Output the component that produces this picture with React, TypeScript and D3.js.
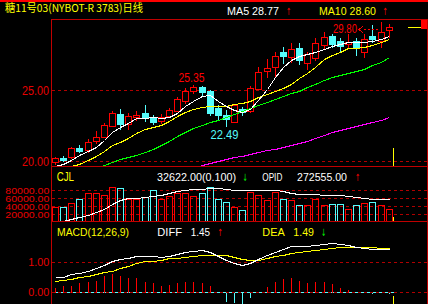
import React from "react";
import * as d3 from "d3";

// Daily bars: 糖11号03 (NYBOT-R 3783)
const OPEN = [19.91, 20.21, 20.26, 20.94, 20.75, 21.43, 21.71, 22.49, 23.31, 22.61, 23.10, 23.36, 23.12, 22.80, 23.15, 23.54, 24.25, 24.93, 25.19, 24.93, 23.75, 23.24, 22.78, 23.64, 23.52, 25.09, 26.36, 26.60, 27.68, 27.35, 27.94, 26.88, 27.23, 28.17, 28.80, 28.45, 28.24, 28.45, 27.70, 28.82, 28.45, 29.20];
const HIGH = [20.30, 20.35, 21.00, 21.13, 21.53, 22.11, 22.65, 23.50, 23.66, 23.36, 23.54, 23.94, 23.24, 23.29, 23.75, 24.49, 25.12, 25.35, 25.30, 25.00, 23.94, 23.59, 24.00, 23.83, 25.30, 26.62, 27.16, 27.65, 28.00, 28.29, 28.29, 27.70, 28.64, 29.11, 28.92, 28.68, 28.92, 28.64, 28.92, 29.58, 29.80, 29.62];
const LOW = [19.77, 20.00, 20.19, 20.61, 20.65, 21.25, 21.67, 22.46, 22.25, 22.25, 22.89, 22.82, 22.58, 22.65, 23.08, 23.52, 24.11, 24.80, 24.65, 23.24, 22.89, 22.49, 22.75, 23.24, 23.47, 25.07, 25.94, 25.94, 26.88, 27.00, 26.81, 26.46, 27.11, 27.94, 28.05, 27.75, 27.94, 27.46, 27.35, 28.40, 28.05, 28.70];
const CLOSE = [20.19, 20.09, 20.89, 20.72, 21.34, 21.67, 22.51, 23.38, 22.63, 23.19, 23.24, 23.05, 22.73, 23.10, 23.59, 24.34, 24.93, 25.24, 24.88, 23.40, 23.24, 22.94, 23.94, 23.45, 25.12, 26.27, 26.53, 27.39, 27.42, 27.87, 27.11, 27.51, 28.29, 28.75, 28.22, 28.10, 28.40, 27.94, 28.59, 28.59, 29.06, 29.42];

// Moving averages
const MA5 = [19.68, 19.82, 20.07, 20.42, 20.70, 20.99, 21.48, 22.06, 22.42, 22.65, 23.01, 23.03, 23.08, 23.06, 23.13, 23.38, 23.87, 24.23, 24.60, 24.62, 24.25, 23.90, 23.62, 23.45, 23.66, 24.30, 25.10, 25.95, 26.60, 27.10, 27.39, 27.54, 27.71, 27.92, 28.08, 28.27, 28.35, 28.35, 28.35, 28.42, 28.56, 28.77];
const MA10 = [null, 19.44, 19.65, 19.79, 20.04, 20.35, 20.67, 21.13, 21.36, 21.65, 21.97, 22.25, 22.39, 22.54, 22.82, 23.17, 23.45, 23.66, 23.78, 23.85, 23.87, 23.89, 23.98, 24.08, 24.26, 24.51, 24.72, 24.93, 25.12, 25.42, 25.81, 26.20, 26.62, 27.18, 27.50, 27.71, 27.94, 27.94, 28.06, 28.17, 28.35, 28.60];
const MA20 = [null, null, null, null, null, 19.52, 19.74, 19.95, 20.13, 20.27, 20.42, 20.63, 20.88, 21.13, 21.41, 21.73, 22.04, 22.32, 22.54, 22.75, 22.92, 23.10, 23.31, 23.49, 23.70, 23.91, 24.15, 24.37, 24.58, 24.79, 24.96, 25.18, 25.42, 25.67, 25.92, 26.09, 26.23, 26.34, 26.51, 26.73, 26.97, 27.32];
const MA60 = [null, null, null, null, null, null, null, null, null, null, null, null, null, null, null, null, null, 19.54, 19.72, 19.86, 20.00, 20.11, 20.25, 20.35, 20.46, 20.60, 20.74, 20.88, 21.02, 21.16, 21.30, 21.44, 21.62, 21.83, 22.01, 22.18, 22.32, 22.46, 22.61, 22.78, 22.92, 23.12];

// Volume (CJL) and open interest (OPID)
const VOLUME = [37500, 37500, 47500, 58250, 72500, 72500, 67500, 87500, 85000, 59000, 59000, 62500, 80000, 59000, 66500, 72500, 72500, 65000, 72500, 87500, 59000, 50000, 38250, 30000, 75000, 68250, 55750, 75000, 58250, 55750, 42500, 42500, 58250, 42500, 45000, 45000, 33250, 42500, 47500, 50750, 42500, 32622];
const OPID = [206400, 208700, 215300, 220200, 224500, 233100, 242200, 257000, 269400, 274600, 275100, 276600, 280300, 283200, 288900, 294600, 298300, 299500, 300300, 303200, 304600, 300300, 296600, 296600, 296600, 297500, 298300, 298300, 293200, 287500, 286000, 285200, 285200, 284000, 283200, 282300, 281200, 277400, 273700, 273100, 272600, 272555];

// MACD(12,26,9)
const DIFF = [0.49, 0.52, 0.59, 0.65, 0.71, 0.81, 0.91, 1.04, 1.11, 1.13, 1.20, 1.21, 1.21, 1.18, 1.21, 1.28, 1.33, 1.37, 1.41, 1.36, 1.21, 1.08, 0.99, 0.91, 0.98, 1.11, 1.23, 1.35, 1.46, 1.55, 1.55, 1.56, 1.58, 1.63, 1.64, 1.62, 1.57, 1.52, 1.47, 1.45, 1.45, 1.45];
const DEA = [0.38, 0.41, 0.44, 0.49, 0.54, 0.59, 0.66, 0.72, 0.81, 0.89, 0.96, 1.03, 1.06, 1.09, 1.13, 1.16, 1.18, 1.21, 1.24, 1.26, 1.26, 1.23, 1.18, 1.11, 1.08, 1.09, 1.14, 1.20, 1.25, 1.30, 1.35, 1.38, 1.41, 1.46, 1.49, 1.52, 1.53, 1.53, 1.52, 1.51, 1.49, 1.49];
const MACD = [0.12, 0.20, 0.21, 0.29, 0.35, 0.37, 0.54, 0.61, 0.54, 0.48, 0.46, 0.35, 0.29, 0.20, 0.24, 0.31, 0.35, 0.35, 0.31, 0.21, -0.05, -0.33, -0.36, -0.40, -0.21, -0.02, 0.18, 0.35, 0.44, 0.47, 0.37, 0.30, 0.34, 0.34, 0.27, 0.13, 0.08, -0.03, -0.05, -0.07, -0.05, -0.06];

// Axis ticks
const PRICE_TICKS = [25, 20];
const VOLUME_TICKS = [80000, 60000, 40000, 20000];
const MACD_TICKS = [1, 0];

// Marked extremes (bar indices)
const MARK_HIGH = 17;
const MARK_LOW = 21;
const MARK_TOP = 40;

const TITLE = "糖11号03(NYBOT-R 3783)日线";

const FONT = "'Liberation Sans', Arial, sans-serif";
const CJK = "'Noto Sans CJK SC', 'Liberation Sans', sans-serif";
const ARROW_FONT = "'DejaVu Sans', sans-serif";
const RED = "#ff0000";
const CYAN = "#54fcfc";
const YELLOW = "#ffff00";
const GREEN = "#00ff00";
const MAGENTA = "#ff00ff";
const FRAME = "#c00000";
const GRID = "#b00000";
const LABEL = "#e80000";

const W = 428;
const H = 304;
const LEFT = 52;
const RIGHT = 427;
const MAIN_TOP = 19;
const MAIN_BOTTOM = 167;
const VOL_BOTTOM = 222;

export default function App() {
  const n = CLOSE.length;
  const x = d3.scaleLinear().domain([0, n - 1]).range([55, 388.7]);
  const cx = (i: number) => Math.round(x(i)) + 0.5;
  const snap = (v: number) => Math.round(v) + 0.5;
  const yP = d3.scaleLinear().domain([20, 25]).range([161, 90]);
  const yV = d3.scaleLinear().domain([0, 80000]).range([222.3, 190.3]);
  const yO = d3.scaleLinear().domain([205000, 272555]).range([222.3, 198.7]);
  const yM = d3.scaleLinear().domain([0, 1]).range([292, 262.3]);

  const series = (y: (v: number) => number) =>
    d3
      .line<number | null>()
      .defined((d) => d != null)
      .x((_, i) => cx(i))
      .y((d) => snap(y(d as number)));

  const priceLine = series(yP);
  const maLines: [Array<number | null>, string][] = [
    [MA60, MAGENTA],
    [MA20, GREEN],
    [MA10, YELLOW],
    [MA5, "#ffffff"],
  ];

  const dashed = (y: number, key: string) => (
    <line key={key} x1={LEFT} x2={RIGHT} y1={snap(y)} y2={snap(y)} stroke={GRID} strokeDasharray="3 3" />
  );

  const arrow = (ch: string, xPos: number, yPos: number, color: string) => (
    <text x={xPos} y={yPos} fill={color} fontFamily={ARROW_FONT} fontSize={10} textLength={5} lengthAdjust="spacingAndGlyphs">
      {ch}
    </text>
  );

  const fmt = d3.format(".2f");
  const cursorX = 393.5;
  const topX = cx(MARK_TOP);
  const topY = yP(HIGH[MARK_TOP]);

  return (
    <svg width={W} height={H} style={{ position: "fixed", left: 0, top: 0, background: "#000" }}>
      <defs>
        <clipPath id="mainClip">
          <rect x={LEFT} y={MAIN_TOP} width={RIGHT - LEFT} height={MAIN_BOTTOM - MAIN_TOP} />
        </clipPath>
        <clipPath id="volClip">
          <rect x={LEFT} y={MAIN_BOTTOM} width={RIGHT - LEFT} height={VOL_BOTTOM - MAIN_BOTTOM} />
        </clipPath>
        <clipPath id="macdClip">
          <rect x={LEFT} y={VOL_BOTTOM} width={RIGHT - LEFT} height={H - VOL_BOTTOM} />
        </clipPath>
      </defs>
      <rect x={0} y={0} width={W} height={H} fill="#000" />
      <rect x={0} y={0} width={W} height={2} fill={RED} />

      {/* header */}
      <text x={5} y={12} fill={YELLOW} fontFamily={CJK} fontSize={11} textLength={138} lengthAdjust="spacingAndGlyphs">
        {TITLE}
      </text>
      <text x={227} y={15.3} fill="#ffffff" fontFamily={FONT} fontSize={11.5} textLength={52} lengthAdjust="spacingAndGlyphs">
        {`MA5 ${fmt(MA5[n - 1] as number)}`}
      </text>
      {arrow("↑", 286, 15.3, RED)}
      <text x={319} y={15.3} fill={YELLOW} fontFamily={FONT} fontSize={11.5} textLength={57} lengthAdjust="spacingAndGlyphs">
        {`MA10 ${fmt(MA10[n - 1] as number)}`}
      </text>
      {arrow("↑", 382.5, 15.3, RED)}

      {/* grid */}
      <g shapeRendering="crispEdges">
        {PRICE_TICKS.map((t) => dashed(yP(t), `p${t}`))}
        {VOLUME_TICKS.map((t) => dashed(yV(t), `v${t}`))}
        {MACD_TICKS.map((t) => dashed(yM(t), `m${t}`))}
      </g>

      {/* axis labels */}
      <g fill={LABEL} fontFamily={FONT} textAnchor="end">
        {PRICE_TICKS.map((t) => (
          <text key={`pl${t}`} x={49} y={yP(t) + 4.5} fontSize={12.5} textLength={27} lengthAdjust="spacingAndGlyphs">
            {fmt(t)}
          </text>
        ))}
        {VOLUME_TICKS.map((t) => (
          <text key={`vl${t}`} x={49.3} y={yV(t) + 3.2} fontSize={9} textLength={44} lengthAdjust="spacingAndGlyphs">
            {fmt(t)}
          </text>
        ))}
        {MACD_TICKS.map((t) => (
          <text key={`ml${t}`} x={49.3} y={yM(t) + 3.5} fontSize={10} textLength={21} lengthAdjust="spacingAndGlyphs">
            {fmt(t)}
          </text>
        ))}
      </g>

      {/* candlesticks */}
      <g clipPath="url(#mainClip)" shapeRendering="crispEdges">
        {CLOSE.map((c, i) => {
          const o = OPEN[i];
          const up = c >= o;
          const xc = cx(i);
          const yHi = Math.round(yP(HIGH[i]));
          const yLo = Math.round(yP(LOW[i]));
          const yO1 = Math.round(yP(o));
          const yC1 = Math.round(yP(c));
          const color = up ? RED : CYAN;
          if (up) {
            return (
              <g key={i}>
                <line x1={xc} x2={xc} y1={yHi} y2={yLo + 1} stroke={color} />
                <rect x={xc - 3} y={yC1 + 0.5} width={6} height={Math.max(1, yO1 - yC1)} fill="#000" stroke={color} />
              </g>
            );
          }
          return (
            <g key={i}>
              <line x1={xc} x2={xc} y1={yHi} y2={yLo + 1} stroke={color} />
              <rect x={xc - 3.5} y={yO1} width={7} height={Math.max(1, yC1 - yO1) + 1} fill={color} />
            </g>
          );
        })}
        {maLines.map(([data, color], k) => (
          <path key={k} d={priceLine(data) ?? ""} fill="none" stroke={color} strokeWidth={1} />
        ))}
      </g>

      {/* extreme labels */}
      <text x={cx(MARK_HIGH) - 2} y={yP(HIGH[MARK_HIGH]) - 3.5} fill={RED} fontFamily={FONT} fontSize={13} textAnchor="middle" textLength={26} lengthAdjust="spacingAndGlyphs">
        {fmt(HIGH[MARK_HIGH])}
      </text>
      <text x={cx(MARK_LOW) - 2} y={yP(LOW[MARK_LOW]) + 13.7} fill={CYAN} fontFamily={FONT} fontSize={13} textAnchor="middle" textLength={28} lengthAdjust="spacingAndGlyphs">
        {fmt(LOW[MARK_LOW])}
      </text>
      <text x={topX - 24.5} y={topY + 11.5} fill={RED} fontFamily={FONT} fontSize={13} textAnchor="end" textLength={24} lengthAdjust="spacingAndGlyphs">
        {fmt(HIGH[MARK_TOP])}
      </text>
      <g shapeRendering="crispEdges" stroke={RED} fill="none">
        <path d={`M${topX - 18.5},${snap(topY + 4.5)} L${topX - 22.5},${snap(topY + 7.5)} L${topX - 18.5},${snap(topY + 10.5)}`} />
        <line x1={topX - 18} x2={topX - 1.5} y1={snap(topY + 7.5)} y2={snap(topY + 7.5)} strokeDasharray="2 2" />
      </g>

      {/* volume panel */}
      <text x={56.7} y={181} fill={YELLOW} fontFamily={FONT} fontSize={12} textLength={17.3} lengthAdjust="spacingAndGlyphs">
        CJL
      </text>
      <text x={157} y={181} fill="#ffffff" fontFamily={FONT} fontSize={11} textLength={79} lengthAdjust="spacingAndGlyphs">
        {`${fmt(VOLUME[n - 1])}(0.100)`}
      </text>
      {arrow("↓", 242.5, 181, GREEN)}
      <text x={262.3} y={181} fill="#ffffff" fontFamily={FONT} fontSize={11} textLength={20} lengthAdjust="spacingAndGlyphs">
        OPID
      </text>
      <text x={297} y={181} fill="#ffffff" fontFamily={FONT} fontSize={11} textLength={50} lengthAdjust="spacingAndGlyphs">
        {fmt(OPID[n - 1])}
      </text>
      {arrow("↑", 355, 181, RED)}
      <g clipPath="url(#volClip)" shapeRendering="crispEdges">
        {VOLUME.map((v, i) => {
          const top = Math.round(yV(v));
          const up = CLOSE[i] >= OPEN[i];
          return (
            <rect key={i} x={cx(i) - 3} y={top + 0.5} width={6} height={VOL_BOTTOM - top} fill="none" stroke={up ? RED : CYAN} />
          );
        })}
        <path d={series(yO)(OPID) ?? ""} fill="none" stroke="#ffffff" />
      </g>

      {/* MACD panel */}
      <text x={57} y={236} fill={YELLOW} fontFamily={FONT} fontSize={11.5} textLength={72} lengthAdjust="spacingAndGlyphs">
        MACD(12,26,9)
      </text>
      <text x={157.3} y={236} fill="#ffffff" fontFamily={FONT} fontSize={11.5} textLength={24.7} lengthAdjust="spacingAndGlyphs">
        DIFF
      </text>
      <text x={190.7} y={236} fill="#ffffff" fontFamily={FONT} fontSize={11.5} textLength={19.3} lengthAdjust="spacingAndGlyphs">
        {fmt(DIFF[n - 1])}
      </text>
      {arrow("↑", 217.5, 236, RED)}
      <text x={262.3} y={236} fill={YELLOW} fontFamily={FONT} fontSize={11.5} textLength={22.4} lengthAdjust="spacingAndGlyphs">
        DEA
      </text>
      <text x={293.3} y={236} fill={YELLOW} fontFamily={FONT} fontSize={11.5} textLength={20.7} lengthAdjust="spacingAndGlyphs">
        {fmt(DEA[n - 1])}
      </text>
      {arrow("↓", 321, 236, GREEN)}
      <g clipPath="url(#macdClip)" shapeRendering="crispEdges">
        <line x1={LEFT} x2={cx(n - 1) + 4} y1={snap(yM(0))} y2={snap(yM(0))} stroke={CYAN} />
        <line x1={LEFT} x2={RIGHT} y1={snap(yM(0))} y2={snap(yM(0))} stroke={GRID} strokeDasharray="3 3" />
        {MACD.map((v, i) => (
          <line key={i} x1={cx(i)} x2={cx(i)} y1={snap(yM(0))} y2={Math.round(yM(v))} stroke={v >= 0 ? RED : CYAN} />
        ))}
        <path d={series(yM)(DEA) ?? ""} fill="none" stroke={YELLOW} />
        <path d={series(yM)(DIFF) ?? ""} fill="none" stroke="#ffffff" />
      </g>

      {/* cursor and last-price marker */}
      <g shapeRendering="crispEdges">
        <line x1={cursorX} x2={cursorX} y1={148} y2={MAIN_BOTTOM} stroke={YELLOW} />
        <line x1={cursorX} x2={cursorX} y1={217} y2={VOL_BOTTOM} stroke={YELLOW} />
        <line x1={cursorX} x2={cursorX} y1={296} y2={H} stroke={YELLOW} />
        <line x1={408} x2={421} y1={27.5} y2={27.5} stroke={YELLOW} />
        <rect x={421} y={MAIN_TOP} width={6} height={10} fill={RED} />
      </g>

      {/* frame */}
      <g stroke={FRAME} shapeRendering="crispEdges" fill="none">
        <line x1={LEFT} x2={W} y1={MAIN_TOP + 0.5} y2={MAIN_TOP + 0.5} />
        <line x1={LEFT} x2={W} y1={MAIN_BOTTOM - 0.5} y2={MAIN_BOTTOM - 0.5} />
        <line x1={LEFT} x2={W} y1={VOL_BOTTOM - 0.5} y2={VOL_BOTTOM - 0.5} />
        <line x1={LEFT - 0.5} x2={LEFT - 0.5} y1={MAIN_TOP} y2={H} />
        <line x1={RIGHT + 0.5} x2={RIGHT + 0.5} y1={MAIN_TOP} y2={H} />
      </g>
    </svg>
  );
}
